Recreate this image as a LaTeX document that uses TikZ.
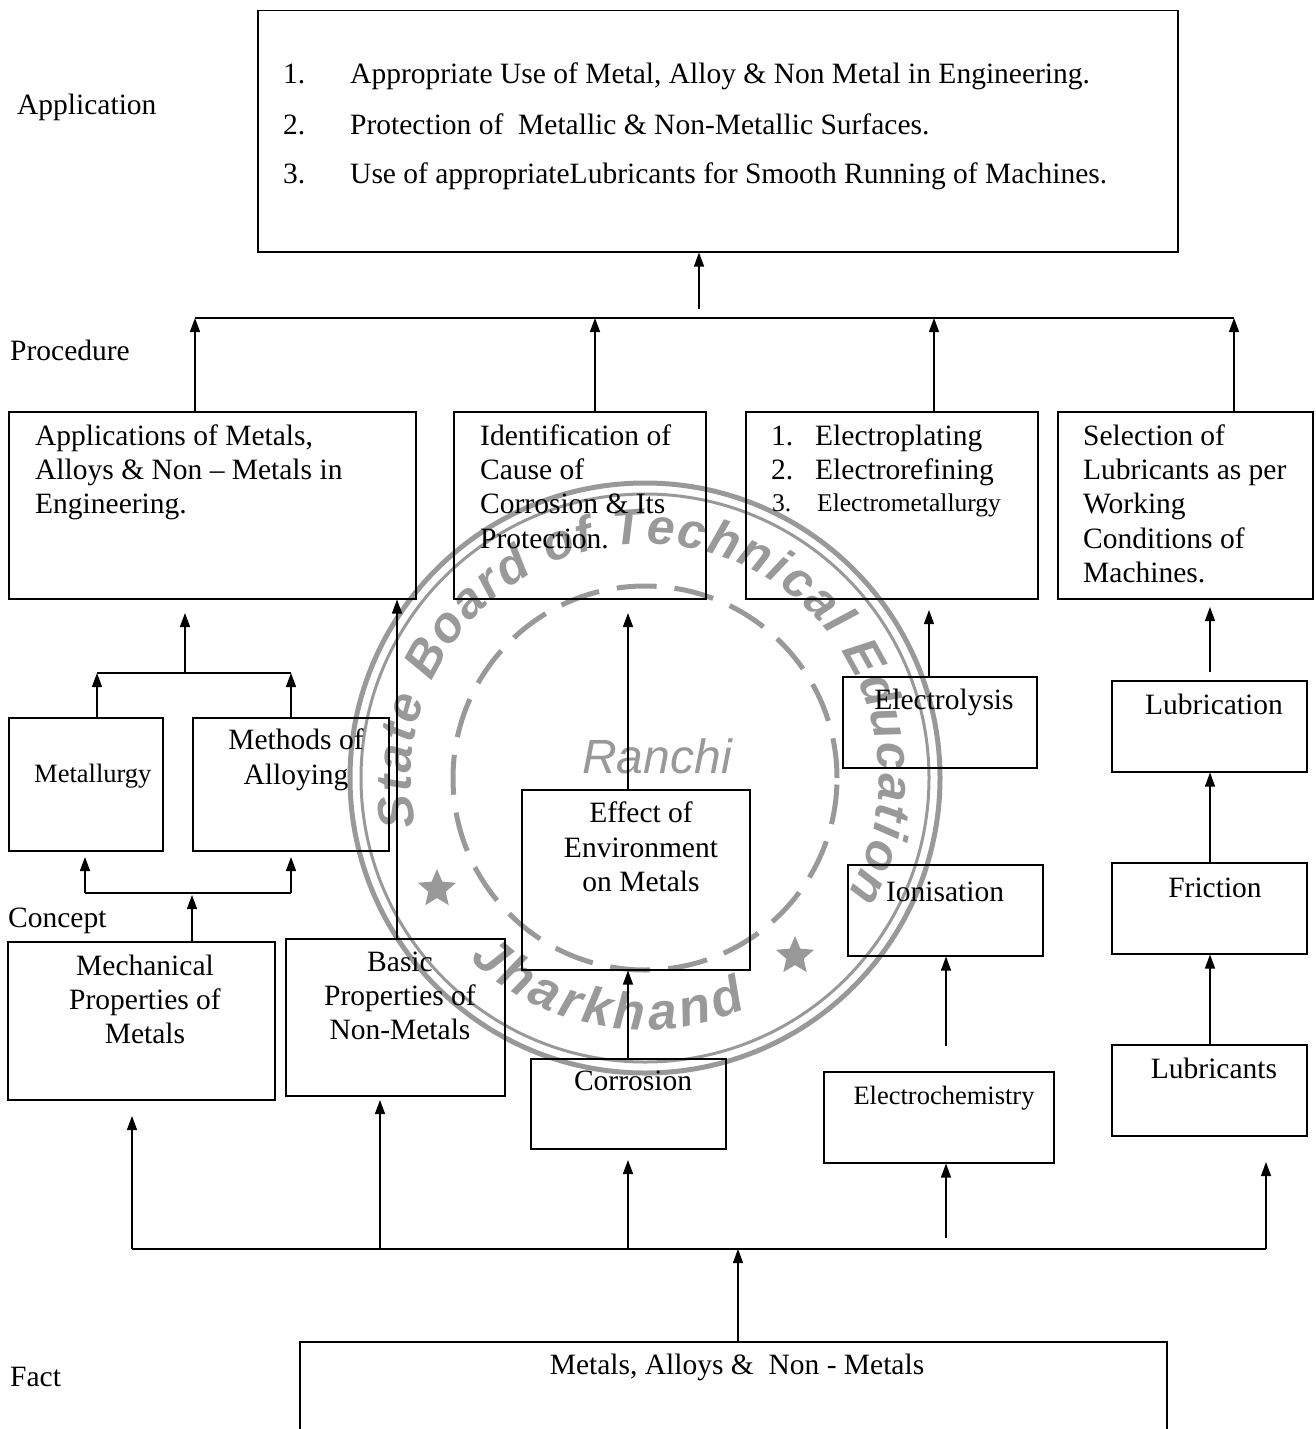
\documentclass[tikz,border=0pt]{standalone}
\usepackage{fontspec}
\setmainfont{Liberation Serif}
\newfontfamily\stampsf{Liberation Sans}
\usetikzlibrary{arrows.meta,shapes.geometric,decorations.text}
\definecolor{stampgray}{gray}{0.6}
\begin{document}
\begin{tikzpicture}[x=1pt,y=-1pt,
  box/.style={draw, line width=1.5pt, rectangle, inner sep=0pt, anchor=north west},
  arr/.style={line width=1.3pt, -{Triangle[length=14pt,width=10pt]}},
  ln/.style={line width=1.5pt},
  tx/.style={inner sep=0pt, anchor=base west, font=\fontsize{29.5}{34.5}\selectfont},
  tc/.style={inner sep=0pt, anchor=base, font=\fontsize{29.5}{34.5}\selectfont},
  ts/.style={inner sep=0pt, anchor=base west, font=\fontsize{25.5}{30}\selectfont},
]
\useasboundingbox (0,0) rectangle (1315,1429);

% ---------------- stamp (watermark) ----------------
\begin{scope}[shift={(645,778)}, x=1pt, y=1pt]
  \draw[stampgray, line width=5pt] (0,0) circle[radius=295];
  \draw[stampgray, line width=3pt] (0,0) circle[radius=284];
  \draw[stampgray, line width=5pt, dash pattern=on 40pt off 18pt] (0,0) circle[radius=192];
  \path[decorate, decoration={text along path, text align=fit to path,
     text={|\stampsf\bfseries\itshape\fontsize{50}{50}\selectfont\color{stampgray}|State Board of Technical Education}}]
     (192:234) arc[start angle=192, end angle=-30, radius=234];
  \path[decorate, decoration={text along path, text align=fit to path,
     text={|\stampsf\bfseries\itshape\fontsize{52}{52}\selectfont\color{stampgray}|Jharkhand}}]
     (226:252) arc[start angle=226, end angle=294, radius=252];
  \node[inner sep=0pt, text=stampgray, font=\stampsf\itshape\fontsize{48}{48}\selectfont] (ranchi) at (12,22) {Ranchi};
  \node[star, star points=5, star point ratio=2.2, fill=stampgray, minimum size=40pt, inner sep=0pt] (star1) at (-208,-111) {};
  \node[star, star points=5, star point ratio=2.2, fill=stampgray, minimum size=40pt, inner sep=0pt] (star2) at (150,-178) {};
\end{scope}

% ---------------- boxes ----------------
\node[box, minimum width=920pt, minimum height=241pt] (top) at (257,10) {};
\node[box, minimum width=407pt, minimum height=187pt] (A) at (8,411) {};
\node[box, minimum width=252pt, minimum height=187pt] (B) at (453,411) {};
\node[box, minimum width=292pt, minimum height=187pt] (C) at (745,411) {};
\node[box, minimum width=255pt, minimum height=187pt] (D) at (1057,411) {};
\node[box, minimum width=154pt, minimum height=133pt] (met) at (8,717) {};
\node[box, minimum width=196pt, minimum height=133pt] (meth) at (192,717) {};
\node[box, minimum width=228pt, minimum height=180pt] (eff) at (521,789) {};
\node[box, minimum width=194pt, minimum height=91pt] (elys) at (842,676) {};
\node[box, minimum width=195pt, minimum height=91pt] (lubn) at (1111,680) {};
\node[box, minimum width=195pt, minimum height=91pt] (ion) at (847,864) {};
\node[box, minimum width=195pt, minimum height=91pt] (fric) at (1111,862) {};
\node[box, minimum width=267pt, minimum height=158pt] (mech) at (7,941) {};
\node[box, minimum width=219pt, minimum height=157pt] (basic) at (285,938) {};
\node[box, minimum width=195pt, minimum height=90pt] (corr) at (530,1058) {};
\node[box, minimum width=230pt, minimum height=91pt] (ech) at (823,1071) {};
\node[box, minimum width=195pt, minimum height=91pt] (lubs) at (1111,1044) {};
\node[box, minimum width=867pt, minimum height=130pt] (fact) at (299,1341) {};

% ---------------- level labels ----------------
\node[tx] (lapp) at (17,114) {Application};
\node[tx] (lproc) at (10,360) {Procedure};
\node[tx] (lconc) at (8,927) {Concept};
\node[tx] (lfact) at (10,1386) {Fact};

% ---------------- texts ----------------
\node[tx] (t1n) at (283,84) {1.};
\node[tx] (t1) at (350,84) {Appropriate Use of Metal, Alloy \& Non Metal in Engineering.};
\node[tx] (t2n) at (283,134) {2.};
\node[tx] (t2) at (350,134) {Protection of\ \ Metallic \& Non-Metallic Surfaces.};
\node[tx] (t3n) at (283,183) {3.};
\node[tx] (t3) at (350,183) {Use of appropriateLubricants for Smooth Running of Machines.};

\node[tx] (a1) at (35,445) {Applications of Metals,};
\node[tx] (a2) at (35,479) {Alloys \& Non – Metals in};
\node[tx] (a3) at (35,513) {Engineering.};

\node[tx] (b1) at (480,445) {Identification of};
\node[tx] (b2) at (480,479) {Cause of};
\node[tx] (b3) at (480,513) {Corrosion \& Its};
\node[tx] (b4) at (480,548) {Protection.};

\node[tx] (c1n) at (771,445) {1.};
\node[tx] (c1) at (815,445) {Electroplating};
\node[tx] (c2n) at (771,479) {2.};
\node[tx] (c2) at (815,479) {Electrorefining};
\node[ts] (c3n) at (772,511) {3.};
\node[ts] (c3) at (817,511) {Electrometallurgy};

\node[tx] (d1) at (1083,445) {Selection of};
\node[tx] (d2) at (1083,479) {Lubricants as per};
\node[tx] (d3) at (1083,513) {Working};
\node[tx] (d4) at (1083,548) {Conditions of};
\node[tx] (d5) at (1083,582) {Machines.};

\node[inner sep=0pt, anchor=base west, font=\fontsize{26.5}{30}\selectfont] (tmet) at (34,782) {Metallurgy};
\node[tc] (tmeth1) at (296,749) {Methods of};
\node[tc] (tmeth2) at (296,784) {Alloying};

\node[tc] (teff1) at (641,822) {Effect of};
\node[tc] (teff2) at (641,857) {Environment};
\node[tc] (teff3) at (641,891) {on Metals};

\node[tc] (telys) at (944,709) {Electrolysis};
\node[tc] (tlubn) at (1214,714) {Lubrication};
\node[tc] (tion) at (945,901) {Ionisation};
\node[tc] (tfric) at (1215,897) {Friction};

\node[tc] (tmech1) at (145,975) {Mechanical};
\node[tc] (tmech2) at (145,1009) {Properties of};
\node[tc] (tmech3) at (145,1043) {Metals};

\node[tc] (tbas1) at (400,971) {Basic};
\node[tc] (tbas2) at (400,1005) {Properties of};
\node[tc] (tbas3) at (400,1039) {Non-Metals};

\node[tc] (tcorr) at (633,1090) {Corrosion};
\node[inner sep=0pt, anchor=base, font=\fontsize{26.5}{30}\selectfont] (tech) at (944,1104) {Electrochemistry};
\node[tc] (tlubs) at (1214,1078) {Lubricants};
\node[tc] (tfact) at (737,1374) {Metals, Alloys \&\ \ Non - Metals};

% ---------------- connectors ----------------
% procedure -> application
\coordinate (pL) at (195,318);
\coordinate (pB) at (595,318);
\coordinate (pC) at (934,318);
\coordinate (pR) at (1234,318);
\coordinate (pT) at (699,309);
\draw[ln] (pL) -- (pR);
\draw[arr] (A.north -| pL) -- (pL);
\draw[arr] (B.north -| pB) -- (pB);
\draw[arr] (C.north -| pC) -- (pC);
\draw[arr] (D.north -| pR) -- (pR);
\draw[arr] (pT) -- (pT |- top.south);

% metallurgy / alloying -> A
\coordinate (mL) at (97,673);
\coordinate (mR) at (291,673);
\coordinate (mC) at (185,673);
\coordinate (mT) at (185,613);
\draw[ln] (mL) -- (mR);
\draw[arr] (met.north -| mL) -- (mL);
\draw[arr] (meth.north -| mR) -- (mR);
\draw[arr] (mC) -- (mT);

% mechanical -> metallurgy / alloying
\coordinate (bL) at (85,893);
\coordinate (bR) at (291,893);
\coordinate (bM) at (192,895);
\coordinate (bLt) at (85,857);
\coordinate (bRt) at (291,857);
\draw[ln] (bL) -- (bR);
\draw[arr] (bL) -- (bLt);
\draw[arr] (bR) -- (bRt);
\draw[arr] (mech.north -| bM) -- (bM);

% basic properties -> A
\coordinate (bs) at (397,700);
\draw[arr] (basic.north -| bs) -- (A.south -| bs);

% corrosion -> effect -> B
\coordinate (ex) at (628,700);
\coordinate (eT) at (628,613);
\draw[arr] (corr.north -| ex) -- (eff.south -| ex);
\draw[arr] (eff.north -| ex) -- (eT);

% electro column
\coordinate (cT) at (929,610);
\draw[arr] (elys.north -| cT) -- (cT);
\coordinate (ionS) at (946,1046);
\draw[arr] (ionS) -- (ion.south -| ionS);
\coordinate (ecS) at (946,1238);
\draw[arr] (ecS) -- (ech.south -| ecS);

% lubricant column
\coordinate (lx) at (1210,700);
\coordinate (lS) at (1210,672);
\coordinate (lT) at (1210,607);
\draw[arr] (lubs.north -| lx) -- (fric.south -| lx);
\draw[arr] (fric.north -| lx) -- (lubn.south -| lx);
\draw[arr] (lS) -- (lT);

% fact -> concepts
\coordinate (fL) at (132,1249);
\coordinate (f2) at (380,1249);
\coordinate (f3) at (628,1249);
\coordinate (fR) at (1266,1249);
\coordinate (fM) at (738,1249);
\coordinate (fLt) at (132,1116);
\coordinate (f2t) at (380,1100);
\coordinate (f3t) at (628,1160);
\coordinate (fRt) at (1266,1162);
\draw[ln] (fL) -- (fR);
\draw[arr] (fL) -- (fLt);
\draw[arr] (f2) -- (f2t);
\draw[arr] (f3) -- (f3t);
\draw[arr] (fR) -- (fRt);
\draw[arr] (fact.north -| fM) -- (fM);
\end{tikzpicture}
\end{document}
